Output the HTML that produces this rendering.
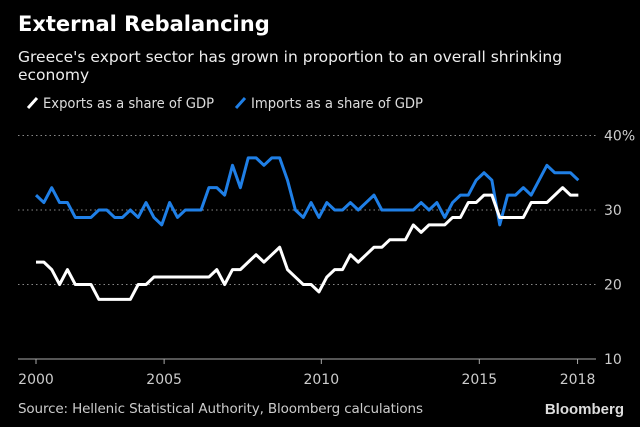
<!DOCTYPE html>
<html><head><meta charset="utf-8"><style>
html,body{margin:0;padding:0;background:#000;}
body{width:640px;height:427px;overflow:hidden;position:relative;font-family:"DejaVu Sans","Liberation Sans",sans-serif;color:#fff;}
.t{position:absolute;white-space:nowrap;}
</style></head><body>
<div class="t" style="left:18px;top:12px;font-size:21px;font-weight:bold;">External Rebalancing</div>
<div class="t" style="left:18px;top:48px;font-size:15.5px;line-height:18px;color:#eee;">Greece's export sector has grown in proportion to an overall shrinking<br>economy</div>
<svg width="640" height="427" style="position:absolute;left:0;top:0" id="chart">
<g>
<line x1="28" y1="108" x2="37" y2="98" stroke="#fff" stroke-width="3"/>
<text x="43" y="108" fill="#ddd" font-size="14.5" textLength="171" lengthAdjust="spacingAndGlyphs" font-family="DejaVu Sans, Liberation Sans, sans-serif">Exports as a share of GDP</text>
<line x1="236" y1="108" x2="245" y2="98" stroke="#1f7fe6" stroke-width="3"/>
<text x="251" y="108" fill="#ddd" font-size="14.5" textLength="172" lengthAdjust="spacingAndGlyphs" font-family="DejaVu Sans, Liberation Sans, sans-serif">Imports as a share of GDP</text>
</g>
<g id="grid"></g><g id="lines"></g>
<text x="18" y="413" fill="#ccc" font-size="13.5" font-family="DejaVu Sans, Liberation Sans, sans-serif" textLength="405">Source: Hellenic Statistical Authority, Bloomberg calculations</text>
<text x="624" y="414" text-anchor="end" fill="#ddd" font-size="15" font-weight="bold" font-family="Liberation Sans, sans-serif">Bloomberg</text>
</svg>
<script>
const exportsShare=[23,23,22,20,22,20,20,20,18,18,18,18,18,20,20,21,21,21,21,21,21,21,21,22,20,22,22,23,24,23,24,25,22,21,20,20,19,21,22,22,24,23,24,25,25,26,26,26,28,27,28,28,28,29,29,31,31,32,32,29,29,29,29,31,31,31,32,33,32,32];
const importsShare=[32,31,33,31,31,29,29,29,30,30,29,29,30,29,31,29,28,31,29,30,30,30,33,33,32,36,33,37,37,36,37,37,34,30,29,31,29,31,30,30,31,30,31,32,30,30,30,30,30,31,30,31,29,31,32,32,34,35,34,28,32,32,33,32,34,36,35,35,35,34];
const xTickLabels=["2000","2005","2010","2015","2018"];
const xTickIndex=[0,16.3,36.3,56.4,68.9];
const yTickValues=[10,20,30,40];
const yTickLabels=["10","20","30","40%"];
const NS="http://www.w3.org/2000/svg";
const xs=i=>36+i*7.86;
const ys=v=>359-(v-10)*7.45;
function mk(tag,attrs,parent){const e=document.createElementNS(NS,tag);for(const k in attrs)e.setAttribute(k,attrs[k]);parent.appendChild(e);return e;}
const grid=document.getElementById('grid'),lines=document.getElementById('lines');
yTickValues.forEach((v,i)=>{
  if(v>10){const g=mk('line',{x1:18,x2:596,y1:ys(v),y2:ys(v),stroke:'#888','stroke-width':1,'stroke-dasharray':'1.5 3'},grid);
  
  }
  const t=mk('text',{x:604,y:ys(v)+5,fill:'#ccc','font-size':14,'font-family':'DejaVu Sans, Liberation Sans, sans-serif'},grid);
  t.textContent=yTickLabels[i];
  
  
});
const ax=mk('line',{x1:18,x2:596,y1:359,y2:359,stroke:'#aaa','stroke-width':1},grid);


xTickIndex.forEach((ix,i)=>{
  const tk=mk('line',{x1:xs(ix),x2:xs(ix),y1:359,y2:364,stroke:'#aaa'},grid);
  
  
  const t=mk('text',{x:xs(ix),y:384,'text-anchor':'middle',fill:'#ccc','font-size':14,'font-family':'DejaVu Sans, Liberation Sans, sans-serif'},grid);
  t.textContent=xTickLabels[i];
  
  
});
function series(arr,color,name){
  const p=mk('polyline',{points:arr.map((v,i)=>xs(i)+','+ys(v)).join(' '),fill:'none',stroke:color,'stroke-width':3,'stroke-linejoin':'round'},lines);
  
  
}
series(importsShare,'#1f7fe6','imports-line');
series(exportsShare,'#ffffff','exports-line');
</script>
</body></html>
